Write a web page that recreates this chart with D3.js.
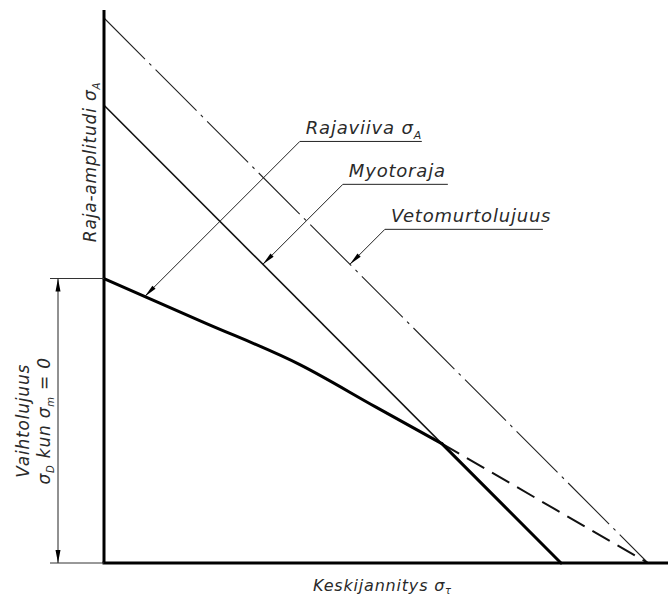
<!DOCTYPE html>
<html>
<head>
<meta charset="utf-8">
<script src="https://cdn.jsdelivr.net/npm/d3@7"></script>
<style>
    body { margin: 0; background: #fff; }
    text { font-family: "DejaVu Sans", sans-serif; font-style: italic; font-weight: 200; fill: #2a2a2a; letter-spacing: 0.8px; }
</style>
</head>
<body>
<div id="chart"></div>
<script>
// values in % of the ultimate tensile strength
const tensileX = [0, 100];
const tensileY = [100, 0];
const yieldX = [0, 84];
const yieldY = [84, 0];
// curved part of the limit line, then it follows the yield line down
const limitX = [0, 18, 36, 50, 62.1];
const limitY = [52.2, 44.3, 36.4, 28.6, 21.9];
const limitTailX = [62.1, 84];
const limitTailY = [21.9, 0];
const limitDashX = [62.1, 100];
const limitDashY = [21.9, 0];
const enduranceLimit = 52.2;

// callout labels and where their arrows touch (x on the curve)
const calloutNames = ["Rajaviiva", "Myotoraja", "Vetomurtolujuus"];
const calloutSubs = ["A", "", ""];
const calloutAtX = [7.5, 29.2, 45.2];

const width = 668, height = 601;

const svg = d3.select("#chart")
    .append("svg")
    .attr("width", width)
    .attr("height", height);

const x = d3.scaleLinear().domain([0, 100]).range([104, 648]);
const y = d3.scaleLinear().domain([0, 100]).range([563, 18]);

const zip = (xs, ys) => xs.map((v, i) => [v, ys[i]]);
const line = d3.line().x(d => x(d[0])).y(d => y(d[1]));
const smooth = d3.line().x(d => x(d[0])).y(d => y(d[1])).curve(d3.curveMonotoneX);

// linear interpolation along a series
function valueAt(xs, ys, v) {
    for (let i = 1; i < xs.length; i++) {
        if (v <= xs[i]) {
            const t = (v - xs[i - 1]) / (xs[i] - xs[i - 1]);
            return ys[i - 1] + t * (ys[i] - ys[i - 1]);
        }
    }
    return ys[ys.length - 1];
}

function arrowHead(tx, ty, ux, uy, len, w) {
    // ux,uy = unit vector pointing toward the tip
    const bx = tx - ux * len, by = ty - uy * len;
    const px = -uy * w / 2, py = ux * w / 2;
    return `M${tx},${ty}L${bx + px},${by + py}L${bx - px},${by - py}Z`;
}

// tensile strength line (dash-dot)
svg.append("path")
    .attr("d", line(zip(tensileX, tensileY)))
    .attr("fill", "none")
    .attr("stroke", "#222")
    .attr("stroke-width", 1.1)
    .attr("stroke-dasharray", "58,6,3,6");

// yield line
svg.append("path")
    .attr("d", line(zip(yieldX, yieldY)))
    .attr("fill", "none")
    .attr("stroke", "#111")
    .attr("stroke-width", 1.6);

// dashed continuation of the limit curve
svg.append("path")
    .attr("d", line(zip(limitDashX, limitDashY)))
    .attr("fill", "none")
    .attr("stroke", "#111")
    .attr("stroke-width", 2)
    .attr("stroke-dasharray", "20,9");

// limit amplitude curve
svg.append("path")
    .attr("d", smooth(zip(limitX, limitY)))
    .attr("fill", "none")
    .attr("stroke", "#000")
    .attr("stroke-width", 3)
    .attr("stroke-linecap", "round");
svg.append("path")
    .attr("d", line(zip(limitTailX, limitTailY)))
    .attr("fill", "none")
    .attr("stroke", "#000")
    .attr("stroke-width", 3)
    .attr("stroke-linecap", "round");

// axes
svg.append("line")
    .attr("x1", x(0)).attr("x2", x(0))
    .attr("y1", 10).attr("y2", y(0))
    .attr("stroke", "#000").attr("stroke-width", 3);
svg.append("line")
    .attr("x1", x(0) - 1.5).attr("x2", width)
    .attr("y1", y(0)).attr("y2", y(0))
    .attr("stroke", "#000").attr("stroke-width", 3);

// callouts: 45 degree leader, underline, text
const leaderLen = [155, 80, 35];
const underLen = [122, 105, 158];
const calloutSeries = [[limitX, limitY], [yieldX, yieldY], [tensileX, tensileY]];
const u = Math.SQRT1_2;

calloutNames.forEach((name, i) => {
    const s = calloutSeries[i];
    const tx = x(calloutAtX[i]);
    const ty = y(valueAt(s[0], s[1], calloutAtX[i]));
    const sx = tx + leaderLen[i], sy = ty - leaderLen[i];
    const g = svg.append("g");
    g.append("path")
        .attr("d", `M${tx},${ty}L${sx},${sy}H${sx + underLen[i]}`)
        .attr("fill", "none")
        .attr("stroke", "#222")
        .attr("stroke-width", 1);
    g.append("path")
        .attr("d", arrowHead(tx, ty, -u, u, 13, 4.5))
        .attr("fill", "#000");
    const t = g.append("text")
        .attr("x", sx + 6)
        .attr("y", sy - 7)
        .attr("font-size", 18)
        .text(name + (calloutSubs[i] ? " σ" : ""));
    if (calloutSubs[i]) {
        t.append("tspan").attr("dy", 5).attr("font-size", 11).text(calloutSubs[i]);
    }
});

// y axis title
const yTitle = svg.append("text")
    .attr("transform", "translate(96,162) rotate(-90)")
    .attr("text-anchor", "middle")
    .attr("font-size", 17)
    .text("Raja-amplitudi σ");
yTitle.append("tspan").attr("dy", 4).attr("font-size", 10).text("A");

// x axis title
const xTitle = svg.append("text")
    .attr("x", 313)
    .attr("y", 591)
    .attr("font-size", 16)
    .attr("letter-spacing", 1.6)
    .text("Keskijannitys σ");
xTitle.append("tspan").attr("dy", 3).attr("font-size", 10).text("τ");

// dimension for endurance limit
const dimX = 58;
const yTop = y(enduranceLimit), yBot = y(0);
svg.append("line")
    .attr("x1", 50).attr("x2", x(0))
    .attr("y1", yTop).attr("y2", yTop)
    .attr("stroke", "#333").attr("stroke-width", 1);
svg.append("line")
    .attr("x1", 50).attr("x2", x(0))
    .attr("y1", yBot).attr("y2", yBot)
    .attr("stroke", "#333").attr("stroke-width", 1);
svg.append("line")
    .attr("x1", dimX).attr("x2", dimX)
    .attr("y1", yTop).attr("y2", yBot)
    .attr("stroke", "#222").attr("stroke-width", 1);
svg.append("path")
    .attr("d", arrowHead(dimX, yTop, 0, -1, 13, 5) + arrowHead(dimX, yBot, 0, 1, 13, 5))
    .attr("fill", "#000");

const dimMid = (yTop + yBot) / 2;
svg.append("text")
    .attr("transform", `translate(29,${dimMid}) rotate(-90)`)
    .attr("text-anchor", "middle")
    .attr("font-size", 17)
    .text("Vaihtolujuus");
const dimText = svg.append("text")
    .attr("transform", `translate(50,${dimMid}) rotate(-90)`)
    .attr("text-anchor", "middle")
    .attr("font-size", 17);
dimText.append("tspan").text("σ");
dimText.append("tspan").attr("dy", 4).attr("font-size", 10).text("D");
dimText.append("tspan").attr("dy", -4).text(" kun σ");
dimText.append("tspan").attr("dy", 4).attr("font-size", 10).text("m");
dimText.append("tspan").attr("dy", -4).text(" = 0");
</script>
</body>
</html>
